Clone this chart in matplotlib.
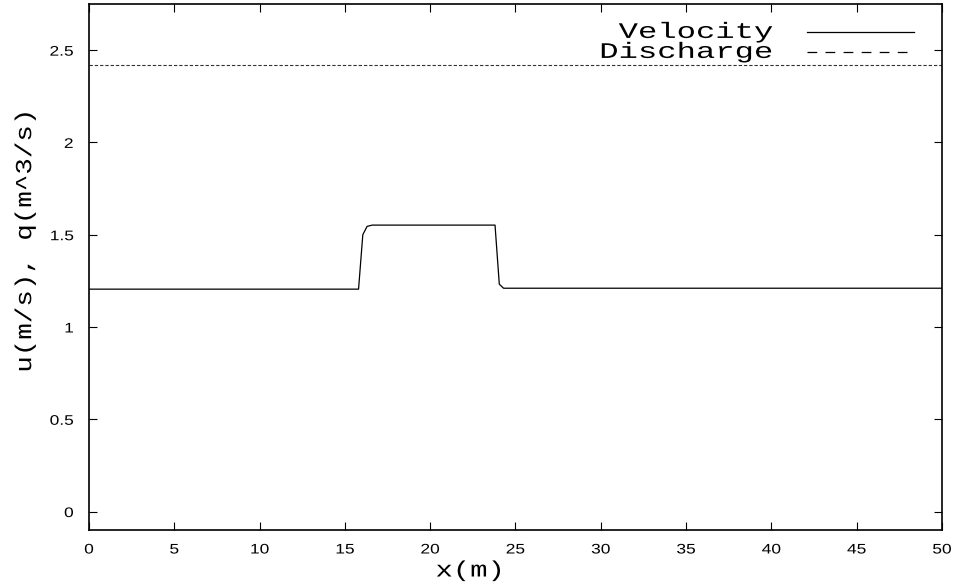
import numpy as np
import matplotlib
matplotlib.use("Agg")
from matplotlib import pyplot as plt
from matplotlib import patheffects as pe
from matplotlib.transforms import Affine2D

plt.rcParams['font.family'] = ['Liberation Sans', 'DejaVu Sans']
plt.rcParams['lines.scale_dashes'] = False

# velocity profile (x in m, u in m/s)
x_vel = [0.0, 15.8, 16.05, 16.3, 16.6, 23.8, 24.05, 24.3, 50.0]
u_vel = [1.205, 1.205, 1.50, 1.545, 1.552, 1.552, 1.232, 1.21, 1.21]
# discharge is constant along the channel
x_q = [0.0, 50.0]
q_dis = [2.42, 2.42]

xticks = [0, 5, 10, 15, 20, 25, 30, 35, 40, 45, 50]
yticks = [0, 0.5, 1, 1.5, 2, 2.5]
yticklabels = ['0', '0.5', '1', '1.5', '2', '2.5']


class Stretch(pe.AbstractPathEffect):
    # gnuplot's fonts come out wide, so stretch glyphs around the text anchor
    def __init__(self, txt, sx=1.0, sy=1.0):
        super().__init__()
        self.txt = txt
        self.sx = sx
        self.sy = sy

    def draw_path(self, renderer, gc, tpath, affine, rgbFace=None):
        x0, y0 = self.txt.get_transform().transform(self.txt.get_unitless_position())
        st = Affine2D().translate(-x0, -y0).scale(self.sx, self.sy).translate(x0, y0)
        renderer.draw_path(gc, tpath, affine + st, rgbFace)


fig = plt.figure(figsize=(9.54, 5.82), dpi=100)
ax = fig.add_axes([89/954, 52/582, 853/954, 526/582])

ax.plot(x_vel, u_vel, color='black', lw=0.9)
ax.plot(x_q, q_dis, color='#333333', lw=0.8, dashes=(2.4, 1.4))

ax.set_xlim(0, 50)
ax.set_ylim(-0.1, 2.75)
ax.set_xticks(xticks)
ax.set_yticks(yticks)
ax.set_yticklabels(yticklabels)
ax.tick_params(direction='in', length=6, width=0.8, top=True, right=True,
               labelsize=10)
ax.tick_params(axis='x', pad=9)
ax.tick_params(axis='y', pad=11)
for s in ax.spines.values():
    s.set_linewidth(1.2)
for lab in ax.get_xticklabels():
    lab.set_path_effects([Stretch(lab, sx=1.25)])
for lab in ax.get_yticklabels():
    lab.set_path_effects([Stretch(lab, sx=1.25)])

mono = 'Liberation Mono'
ax.set_xlabel('x(m)', family=mono, fontsize=16)
ax.xaxis.set_label_coords(0.447, -0.058)
ax.xaxis.label.set_path_effects([Stretch(ax.xaxis.label, sx=1.3)])
ax.set_ylabel('u(m/s), q(m^3/s)', family=mono, fontsize=16.5)
ax.yaxis.set_label_coords(-0.062, 0.55)
ax.yaxis.label.set_path_effects([Stretch(ax.yaxis.label, sy=1.2)])

# legend, gnuplot style: text then sample
tr = ax.transAxes
t1 = ax.text(0.8028, 0.9355, 'Velocity', family=mono, fontsize=16,
             ha='right', va='baseline', transform=tr)
t2 = ax.text(0.8028, 0.8975, 'Discharge', family=mono, fontsize=16,
             ha='right', va='baseline', transform=tr)
t1.set_path_effects([Stretch(t1, sx=1.45)])
t2.set_path_effects([Stretch(t2, sx=1.45)])
ax.plot([0.8415, 0.9671], [0.9474, 0.9474], color='black', lw=0.9, transform=tr)
ax.plot([0.8415, 0.9671], [0.9094, 0.9094], color='black', lw=0.9,
        dashes=(7, 6), transform=tr)

fig.savefig('out.png', dpi=100)
